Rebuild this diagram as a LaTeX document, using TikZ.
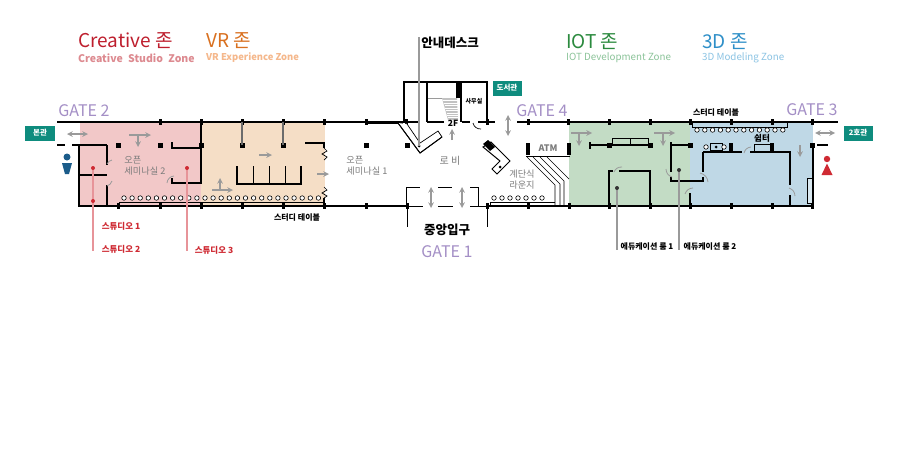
\documentclass[tikz,border=0pt]{standalone}
\usepackage{fontspec}
\setmainfont{Noto Sans CJK KR}
\definecolor{gatepurple}{HTML}{A48FC6}
\definecolor{teallabel}{HTML}{0E8C7E}
\definecolor{zonepink}{HTML}{F2C8C8}
\definecolor{zonepeach}{HTML}{F5DEC6}
\definecolor{zonegreen}{HTML}{C3DCC5}
\definecolor{zoneblue}{HTML}{BFD8E6}
\definecolor{arrowgray}{HTML}{9A9A9A}
\definecolor{studiored}{HTML}{CF2A33}
\definecolor{titlered}{HTML}{BE1E2D}
\definecolor{subred}{HTML}{DD8A90}
\definecolor{titleorange}{HTML}{D9701F}
\definecolor{suborange}{HTML}{F5B88C}
\definecolor{titlegreen}{HTML}{2B8A3E}
\definecolor{subgreen}{HTML}{8CC49A}
\definecolor{titleblue}{HTML}{2E8FC8}
\definecolor{subblue}{HTML}{8CC4E4}
\definecolor{manblue}{HTML}{1B5C8A}
\tikzset{
	wall/.style={black,line width=1.7pt},
	thinwall/.style={black,line width=0.7pt},
	graymove/.style={arrowgray,line width=1.5pt,-stealth},
	graymovetwo/.style={arrowgray,line width=1.5pt,stealth-stealth},
	doorarc/.style={arrowgray,line width=0.8pt},
	leader/.style={arrowgray,line width=1.3pt},
	redleader/.style={studiored!50!white,line width=1.3pt},
	gate/.style={text=gatepurple,font=\fontsize{16}{16}\selectfont,inner sep=0pt},
	buildtag/.style={fill=teallabel,text=white,font=\bfseries\fontsize{7.5}{8}\selectfont,minimum height=15pt,inner sep=0pt},
	zonetitle/.style={anchor=west,inner sep=0pt,font=\fontsize{19}{19}\selectfont},
	zonesub/.style={anchor=west,inner sep=0pt,font=\fontsize{9.8}{10}\selectfont},
	roomlabel/.style={text=arrowgray!80!black,font=\fontsize{9.2}{11}\selectfont,inner sep=0pt},
	blacklabel/.style={font=\bfseries\fontsize{8}{8}\selectfont,inner sep=0pt},
	redlabel/.style={text=studiored,font=\bfseries\fontsize{8.5}{9}\selectfont,inner sep=0pt},
	seat/.style={draw=black,fill=white,line width=0.6pt,circle,inner sep=0pt,minimum size=4.5pt},
}
\begin{document}
\begin{tikzpicture}[x=1pt,y=-1pt]
	\useasboundingbox[fill=white] (0,0) rectangle (900,450);
	% zones
	\fill[zonepink] (80,122) rectangle (201,206);
	\fill[zonepeach] (201,122) rectangle (325,206);
	\fill[zonegreen] (569,122) rectangle (690,206);
	\fill[zoneblue] (690,122) rectangle (813,206);
	% titles
	\node[zonetitle,text=titlered] (titlecreative) at (78,41) {Creative 존};
	\node[zonesub,text=subred,font=\bfseries\fontsize{10.5}{10}\selectfont] (subcreative) at (78,58) {Creative\hspace{3pt} Studio\hspace{3pt} Zone};
	\node[zonetitle,text=titleorange] (titlevr) at (206,41) {VR 존};
	\node[zonesub,text=suborange,font=\bfseries\fontsize{9.4}{10}\selectfont] (subvr) at (206,58) {VR Experience Zone};
	\node[zonetitle,text=titlegreen] (titleiot) at (566,42) {IOT 존};
	\node[zonesub,text=subgreen] (subiot) at (566,58) {IOT Development Zone};
	\node[zonetitle,text=titleblue] (title3d) at (702,42) {3D 존};
	\node[zonesub,text=subblue] (sub3d) at (702,58) {3D Modeling Zone};
	% gates and tags
	\node[gate] (gatetwo) at (84,111) {GATE 2};
	\node[gate] (gatefour) at (542,111) {GATE 4};
	\node[gate] (gatethree) at (812,110) {GATE 3};
	\node[gate] (gateone) at (447,252) {GATE 1};
	\node[buildtag,minimum width=30pt] (mainhall) at (40,133) {본관};
	\node[buildtag,minimum width=29pt] (hall2) at (858,133) {2호관};
	\node[buildtag,minimum width=29pt] (library) at (507,88) {도서관};
	% outer walls
	\draw[wall] (57,122) -- (419,122);
	\draw[wall] (427,122) -- (444,122) (462,122) -- (470,122) (478,122) -- (495,122) (517,122) -- (838,122);
	\draw[wall] (79,145) -- (79,206) -- (407,206);
	\draw[wall] (487,206) -- (813,206) -- (813,145);
	\draw[wall] (57,145) -- (65,145) (72,145) -- (107,145);
	\draw[wall] (817,145) -- (828,145);
	\draw[line width=3pt] (365,122) -- (403,122);
	\foreach \px in {160,201,242,283,324,366,406,487,528,568,609,650,690,731,772,812}
		\fill (\px-1.5,119) rectangle (\px+1.5,125);
	\foreach \px in {118,160,201,242,283,324,366,407,487,528,569,609,650,690,731,772,812}
		\fill (\px-1.5,203) rectangle (\px+1.5,209);
	\foreach \px in {118,160,201,242,283,366,407,609,650,690,812}
		\fill (\px-2.5,142.5) rectangle (\px+2.5,147.5);
	% studios
	\draw[wall] (107,145) -- (107,165) (79,175) -- (107,175) (107,185) -- (107,206);
	\draw[wall] (172,142) -- (172,148) -- (201,148) -- (201,122);
	\draw[wall] (201,148) -- (201,183) -- (172,183) -- (172,178);
	\draw[doorarc] (107,164) to[bend left=25] (112,160) (107,186) to[bend right=25] (112,181);
	\draw[doorarc] (167,183) to[bend left=40] (174,176);
	% peach room
	\draw[line width=1.5pt,arrowgray!70!black] (242,122) -- (242,145) (283,122) -- (283,145);
	\draw[wall] (305,143) -- (324,143) -- (324,148);
	\draw[thinwall] (324,148) -- (327,151) -- (322,154) -- (327,157) -- (324,160);
	\draw[thinwall] (324,187) -- (327,190) -- (322,193) -- (327,196) -- (324,198);
	\draw[wall] (324,198) -- (324,206);
	\draw[wall] (237,166) -- (237,184) -- (301,184) -- (301,166);
	\foreach \px in {253,269,285}
		\draw[thinwall] (\px,166) -- (\px,184);
	% study tables
	\draw[thinwall] (119,206) -- (119,202) -- (324,202);
	\foreach \k in {0,...,24}
		\node[seat] (seatleft\k) at (124+8.1*\k,198) {};
	\draw[thinwall] (490,206) -- (490,202) -- (555,202);
	\foreach \k in {0,...,6}
		\node[seat] (seatmid\k) at (494+8*\k,198) {};
	\draw[thinwall] (692,122) -- (692,127) -- (787,127) -- (787,122);
	\foreach \k in {0,...,11}
		\node[seat] (seatright\k) at (697+7.8*\k,130) {};
	% central block
	\draw[wall] (404,122) -- (404,82) -- (487,82) -- (487,122);
	\draw[wall] (427,82) -- (427,122) (461,82) -- (461,122);
	\draw[line width=5pt] (458.5,82) -- (458.5,98);
	\draw[arrowgray,line width=0.7pt] (428,98) -- (442,98);
	\fill[arrowgray!60!white] (442,98) -- (457,98) -- (458,120) -- (448,120) -- cycle;
	\foreach \k in {1,...,8}
		\draw[white,line width=0.4pt] (442.7+0.65*\k,98+2.45*\k) -- (458,98+2.45*\k);
	\draw[black,line width=0.7pt] (473,123) to[bend right=40] (481,129);
	\node[blacklabel,font=\bfseries\fontsize{8.5}{8}\selectfont] (twof) at (453,123) {2F};
	\node[blacklabel,font=\bfseries\fontsize{6}{6}\selectfont] (office) at (474,101) {사무실};
	% desks
	\draw[thinwall,fill=white] (398,123) -- (420,153) -- (442,137) -- (438,131) -- (420,143) -- (407,124);
	\draw[line width=1pt] (398,123) -- (420,153) -- (442,137);
	\fill[black] (419,146) circle (1.5);
	\draw[line width=1pt,fill=white] (491,142) -- (510,161) -- (497,174) -- (492,169) -- (500,161) -- (483,147) -- cycle;
	\fill[black] (483,144) -- (488,140) -- (495,147) -- (490,151) -- cycle;
	\fill[black] (500,167) circle (1.5);
	% ATM and stairs
	\draw[line width=4pt] (528,143) -- (528,155) (569,143) -- (569,155);
	\draw[thinwall] (526,156) -- (570,156);
	\draw[thinwall] (527,157) -- (555,185) -- (555,206);
	\draw[thinwall] (533,157) -- (560,184) -- (560,206);
	\draw[thinwall] (540,157) -- (564,181) -- (564,206);
	\draw[thinwall] (547,157) -- (569,179);
	\node[roomlabel,font=\bfseries\fontsize{9}{8}\selectfont] (atm) at (548,148) {ATM};
	% entrance
	\draw[wall,line width=1pt] (406,206) -- (406,187) -- (420,187) (438,187) -- (452,187) (470,187) -- (478,187) -- (478,206);
	\draw[thinwall] (407,206) -- (423,206) (438,206) -- (453,206) (470,206) -- (487,206);
	\draw[thinwall] (407,206) -- (407,227) (487,206) -- (487,227);
	\node[font=\bfseries\fontsize{12.5}{12}\selectfont,inner sep=0pt] (entrance) at (447,230) {중앙입구};
	% green and blue rooms
	\draw[wall] (590,145) -- (650,145) (590,142) -- (590,149);
	\draw[thinwall] (612,145) -- (612,138) -- (648,138) -- (648,145) (630,138) -- (630,145);
	\draw[wall] (609,206) -- (609,171) -- (613,171) (619,171) -- (650,171) -- (650,206);
	\draw[doorarc] (614,172) to[bend left=35] (622,167);
	\draw[wall] (671,142) -- (671,172) (671,145) -- (690,145);
	\draw[wall] (671,177) -- (671,181) -- (703,181) -- (703,177);
	\draw[wall] (703,152) -- (703,172);
	\draw[doorarc] (666,169) to[bend right=35] (672,177) (700,173) to[bend left=35] (708,182);
	\draw[wall] (690,193) -- (690,206);
	\draw[doorarc] (685,194) to[bend left=35] (693,188);
	\draw[wall] (703,152) -- (742,152) (750,152) -- (790,152) -- (790,185) (790,195) -- (790,206);
	\draw[doorarc] (744,153) to[bend left=35] (751,147);
	\draw[doorarc] (789,188) to[bend left=35] (795,196);
	\draw[line width=4pt] (731,143) -- (731,152) (772,143) -- (772,152);
	\draw[thinwall] (754,144) rectangle (770,151);
	\draw[thinwall] (710,143) rectangle (722,150);
	\fill (716,147) circle (1.5);
	\node[seat] (gadgetleft) at (706,147) {};
	\node[seat] (gadgetright) at (724,147) {};
	\node[blacklabel,font=\bfseries\fontsize{8.5}{8}\selectfont] (restarea) at (762,138) {쉼터};
	\draw[thinwall,fill=zoneblue!60!white] (807,178) rectangle (812,203);
	% moving arrows
	\draw[graymovetwo] (67,134) -- (88,134);
	\draw[graymove] (129,135) -- (151,135);
	\draw[graymove] (138,135) -- (138,147);
	\draw[graymove] (259,155) -- (272,155);
	\draw[graymove] (317,174) -- (329,174);
	\draw[graymove] (212,190) -- (233,190);
	\draw[graymove] (220,190) -- (220,178);
	\draw[graymove] (452,140) -- (452,129);
	\draw[graymovetwo] (508,115) -- (508,136);
	\draw[graymovetwo] (431,187) -- (431,208);
	\draw[graymovetwo] (462,187) -- (462,208);
	\draw[graymove] (571,133) -- (592,133);
	\draw[graymove] (579,133) -- (579,146);
	\draw[graymove] (654,133) -- (675,133);
	\draw[graymove] (663,133) -- (663,146);
	\draw[graymove] (800,145) -- (800,157);
	\draw[graymovetwo] (815,133) -- (835,133);
	% leaders
	\coordinate (deskdot) at (419,146);
	\coordinate (desktop) at (419,37);
	\draw[leader] (desktop) -- (deskdot);
	\coordinate (studioonedot) at (93,168);
	\coordinate (studiotwodot) at (93,201);
	\coordinate (studioend) at (93,251);
	\coordinate (studiothreedot) at (187,168);
	\coordinate (studiothreeend) at (187,251);
	\draw[redleader] (studioonedot) -- (studioend);
	\draw[redleader] (studiothreedot) -- (studiothreeend);
	\fill[studiored] (studioonedot) circle (2) (studiotwodot) circle (2) (studiothreedot) circle (2);
	\coordinate (eduonedot) at (617,188);
	\coordinate (eduoneend) at (617,250);
	\coordinate (edutwodot) at (679,170);
	\coordinate (edutwoend) at (679,250);
	\draw[leader] (eduonedot) -- (eduoneend);
	\draw[leader] (edutwodot) -- (edutwoend);
	\fill[black!80] (eduonedot) circle (2) (edutwodot) circle (2);
	% labels
	\node[font=\bfseries\fontsize{12.5}{12}\selectfont,inner sep=0pt] (infodesk) at (450,43) {안내데스크};
	\node[roomlabel,align=left] (seminartwo) at (145,165.5) {오픈\\세미나실 2};
	\node[roomlabel,align=left] (seminarone) at (367,165.5) {오픈\\세미나실 1};
	\node[roomlabel,font=\fontsize{10}{10}\selectfont] (lobby) at (450,161) {로 비};
	\node[roomlabel,align=center] (lounge) at (522,180) {계단식\\라운지};
	\node[blacklabel] (tableleft) at (297,218) {스터디 테이블};
	\node[blacklabel] (tableright) at (716,113) {스터디 테이블};
	\node[redlabel] (studioone) at (121,226) {스튜디오 1};
	\node[redlabel] (studiotwo) at (121,249) {스튜디오 2};
	\node[redlabel] (studiothree) at (214,250) {스튜디오 3};
	\node[blacklabel] (eduone) at (647,247) {에듀케이션 룸 1};
	\node[blacklabel] (edutwo) at (710,247) {에듀케이션 룸 2};
	% people
	\fill[manblue] (67,157) circle (3.5);
	\fill[manblue] (62,163) -- (72,163) -- (69,174) -- (65,174) -- cycle;
	\fill[studiored] (827,159) circle (3.2);
	\fill[studiored] (827,163.5) -- (832.5,175) -- (821.5,175) -- cycle;
\end{tikzpicture}
\end{document}
